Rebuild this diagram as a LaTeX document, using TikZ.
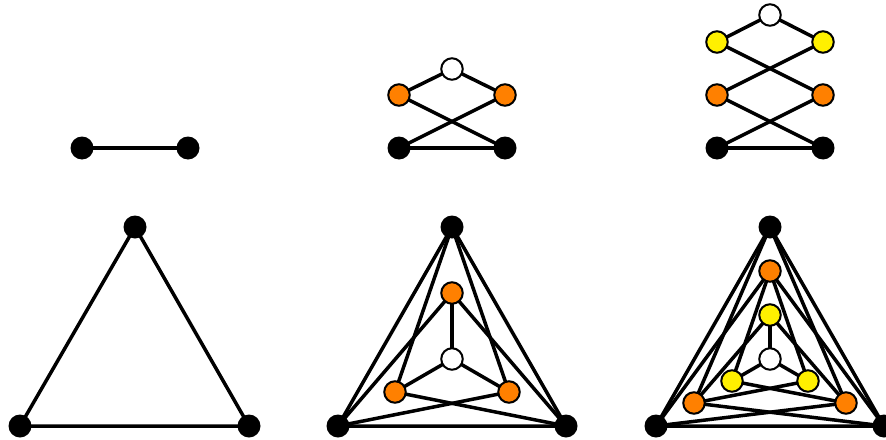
\documentclass[tikz,border=0pt]{standalone}
\usetikzlibrary{backgrounds}
\definecolor{vorange}{RGB}{255,128,0}
\definecolor{vyellow}{RGB}{255,240,0}
\tikzset{
  blk/.style={circle,fill=black,inner sep=0pt,minimum size=23pt},
  col/.style={circle,draw=black,line width=2pt,inner sep=0pt,minimum size=21.5pt},
  org/.style={col,fill=vorange},
  yel/.style={col,fill=vyellow},
  wht/.style={col,fill=white},
  edge/.style={line width=3.5pt}
}
\begin{document}
\begin{tikzpicture}[x=1pt,y=-1pt]
\useasboundingbox (0,0) rectangle (886,439);

% ---- level 0: single edge and triangle ----
\node[blk] (a1) at (82,148) {};
\node[blk] (a2) at (188,148) {};
\node[blk] (t0) at (135,227) {};
\node[blk] (l0) at (20,426) {};
\node[blk] (r0) at (249,426) {};

% ---- level 1: path lift ----
\node[blk] (b1) at (399,148) {};
\node[blk] (b2) at (505,148) {};
\node[org] (o1) at (399,95) {};
\node[org] (o2) at (505,95) {};
\node[wht] (w1) at (452,69) {};

% ---- level 1: triangle lift ----
\node[blk] (t1) at (452,227) {};
\node[blk] (l1) at (338,426) {};
\node[blk] (r1) at (566,426) {};
\node[org] (ot1) at (452,293) {};
\node[org] (ol1) at (395,392) {};
\node[org] (or1) at (509,392) {};
\node[wht] (wc1) at (452,359) {};

% ---- level 2: path lift ----
\node[blk] (c1) at (717,148) {};
\node[blk] (c2) at (823,148) {};
\node[org] (p1) at (717,95) {};
\node[org] (p2) at (823,95) {};
\node[yel] (y1) at (717,42) {};
\node[yel] (y2) at (823,42) {};
\node[wht] (w2) at (770,15) {};

% ---- level 2: triangle lift ----
\node[blk] (t2) at (770,227) {};
\node[blk] (l2) at (656,426) {};
\node[blk] (r2) at (884,426) {};
\node[org] (ot2) at (770,271) {};
\node[org] (ol2) at (694,403) {};
\node[org] (or2) at (846,403) {};
\node[yel] (yt2) at (770,315) {};
\node[yel] (yl2) at (732,381) {};
\node[yel] (yr2) at (808,381) {};
\node[wht] (wc2) at (770,359) {};

\begin{pgfonlayer}{background}
\draw[edge] (a1.center) -- (a2.center);
\draw[edge] (t0.center) -- (l0.center) -- (r0.center) -- cycle;

\draw[edge] (b1.center) -- (b2.center);
\draw[edge] (b1.center) -- (o2.center);
\draw[edge] (b2.center) -- (o1.center);
\draw[edge] (o1.center) -- (w1.center) -- (o2.center);

\draw[edge] (t1.center) -- (l1.center) -- (r1.center) -- cycle;
\draw[edge] (t1.center) -- (ol1.center);
\draw[edge] (t1.center) -- (or1.center);
\draw[edge] (l1.center) -- (ot1.center);
\draw[edge] (l1.center) -- (or1.center);
\draw[edge] (r1.center) -- (ot1.center);
\draw[edge] (r1.center) -- (ol1.center);
\draw[edge] (wc1.center) -- (ot1.center);
\draw[edge] (wc1.center) -- (ol1.center);
\draw[edge] (wc1.center) -- (or1.center);

\draw[edge] (c1.center) -- (c2.center);
\draw[edge] (c1.center) -- (p2.center);
\draw[edge] (c2.center) -- (p1.center);
\draw[edge] (p1.center) -- (y2.center);
\draw[edge] (p2.center) -- (y1.center);
\draw[edge] (y1.center) -- (w2.center) -- (y2.center);

\draw[edge] (t2.center) -- (l2.center) -- (r2.center) -- cycle;
\draw[edge] (t2.center) -- (ol2.center);
\draw[edge] (t2.center) -- (or2.center);
\draw[edge] (l2.center) -- (ot2.center);
\draw[edge] (l2.center) -- (or2.center);
\draw[edge] (r2.center) -- (ot2.center);
\draw[edge] (r2.center) -- (ol2.center);
\draw[edge] (ot2.center) -- (yl2.center);
\draw[edge] (ot2.center) -- (yr2.center);
\draw[edge] (ol2.center) -- (yt2.center);
\draw[edge] (ol2.center) -- (yr2.center);
\draw[edge] (or2.center) -- (yt2.center);
\draw[edge] (or2.center) -- (yl2.center);
\draw[edge] (wc2.center) -- (yt2.center);
\draw[edge] (wc2.center) -- (yl2.center);
\draw[edge] (wc2.center) -- (yr2.center);
\end{pgfonlayer}
\end{tikzpicture}
\end{document}
